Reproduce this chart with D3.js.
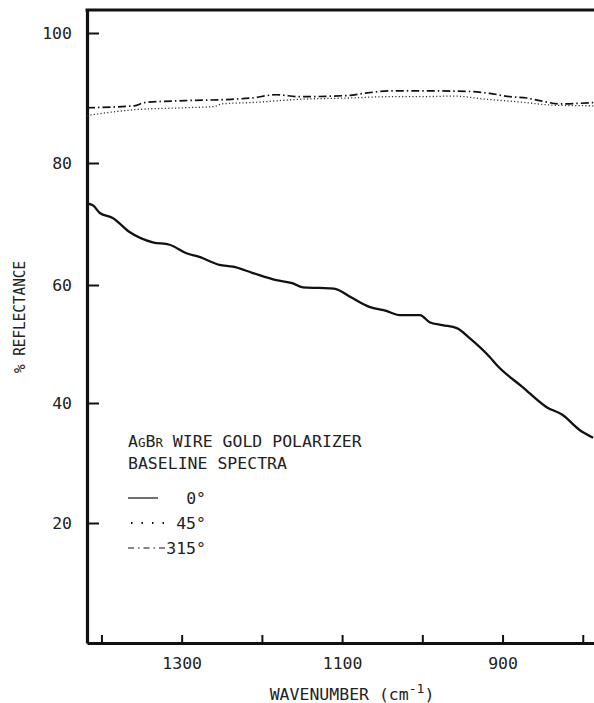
<!DOCTYPE html>
<html>
<head>
<meta charset="utf-8">
<script src="https://cdn.jsdelivr.net/npm/d3@7"></script>
<style>
  html, body { margin: 0; padding: 0; background: #fff; }
  svg { display: block; }
  text { font-family: "DejaVu Sans Mono", monospace; fill: #222; }
</style>
</head>
<body>
<svg id="chart" width="594" height="703"></svg>
<script>
// ---- data ----
const yTicks = [20, 40, 60, 80, 100];
const xTicks = [1400, 1300, 1200, 1100, 1000, 900, 800];
const xTickLabels = [1300, 1100, 900];

// 0 degree (solid)
const wn0  = [1418, 1410, 1402, 1386, 1365, 1336, 1315, 1294, 1278, 1253, 1236, 1212, 1182, 1162, 1149, 1128, 1110, 1090, 1066, 1045, 1028, 1003, 991, 975, 957, 941, 916, 907, 875, 845, 825, 804, 787];
const val0 = [73.4, 73.0, 71.8, 71.0, 68.7, 67.0, 66.6, 65.2, 64.6, 63.3, 63.0, 62.0, 60.8, 60.3, 59.6, 59.5, 59.4, 58.0, 56.3, 55.6, 54.9, 54.9, 53.7, 53.2, 52.7, 51.0, 47.8, 46.4, 42.7, 39.3, 38.0, 35.5, 34.2];

// 45 degree (dotted)
const wn45  = [1418, 1359, 1296, 1259, 1250, 1213, 1153, 1091, 1041, 1000, 962, 920, 879, 837, 787];
const val45 = [87.3, 88.2, 88.5, 88.7, 89.1, 89.3, 89.8, 90.0, 90.2, 90.2, 90.3, 89.8, 89.4, 88.9, 88.8];

// 315 degree (dash-dot)
const wn315  = [1418, 1359, 1346, 1296, 1238, 1213, 1182, 1153, 1091, 1074, 1037, 1000, 941, 916, 891, 870, 854, 829, 787];
const val315 = [88.5, 88.8, 89.3, 89.6, 89.8, 90.0, 90.5, 90.2, 90.4, 90.7, 91.1, 91.1, 91.0, 90.7, 90.2, 90.0, 89.6, 89.1, 89.3];

// ---- layout ----
const svg = d3.select("#chart");
const mLeft = 87, mRight = 594, mTop = 10, mBottom = 643;

const x = d3.scaleLinear().domain([1418, 786]).range([mLeft, mRight]);
// the scanned axis is slightly uneven: use a poly-linear scale through the printed ticks
const y = d3.scaleLinear()
  .domain([0, 20, 40, 60, 80, 100, 103.5])
  .range([mBottom, 523, 403, 285, 163, 33, mTop]);

// ---- axes ----
const yAxis = d3.axisLeft(y).tickValues(yTicks).tickSizeInner(-12).tickSizeOuter(0).tickPadding(15)
  .tickFormat(d3.format("d"));
const gy = svg.append("g").attr("transform", `translate(${mLeft},0)`).call(yAxis);
gy.select(".domain").attr("stroke", "#111").attr("stroke-width", 3.2);
gy.selectAll(".tick line").attr("stroke", "#111").attr("stroke-width", 2);
gy.selectAll(".tick text").attr("font-size", 16.5).attr("font-family", "DejaVu Sans Mono").attr("fill", "#222");

const xAxis = d3.axisBottom(x).tickValues(xTicks).tickSizeInner(-8).tickSizeOuter(0).tickPadding(14)
  .tickFormat(d => xTickLabels.includes(d) ? d : "");
const gx = svg.append("g").attr("transform", `translate(0,${mBottom})`).call(xAxis);
gx.select(".domain").attr("stroke", "#111").attr("stroke-width", 3.2);
gx.selectAll(".tick line").attr("stroke", "#111").attr("stroke-width", 2);
gx.selectAll(".tick text").attr("font-size", 16.5).attr("font-family", "DejaVu Sans Mono").attr("fill", "#222");

// top frame
svg.append("line").attr("x1", mLeft - 1.5).attr("x2", mRight).attr("y1", mTop).attr("y2", mTop)
  .attr("stroke", "#111").attr("stroke-width", 3.2);

// ---- series ----
const line = d3.line().x(d => x(d[0])).y(d => y(d[1])).curve(d3.curveMonotoneX);
const zip = (a, b) => a.map((v, i) => [v, b[i]]);

svg.append("path").datum(zip(wn45, val45)).attr("d", line)
  .attr("fill", "none").attr("stroke", "#333").attr("stroke-width", 1.3)
  .attr("stroke-dasharray", "1.2,2.2");
svg.append("path").datum(zip(wn315, val315)).attr("d", line)
  .attr("fill", "none").attr("stroke", "#111").attr("stroke-width", 1.7)
  .attr("stroke-dasharray", "8,3,1.5,3");
svg.append("path").datum(zip(wn0, val0)).attr("d", line)
  .attr("fill", "none").attr("stroke", "#111").attr("stroke-width", 2.3);

// ---- axis titles ----
const xt = svg.append("text").attr("x", 352).attr("y", 700).attr("text-anchor", "middle").attr("font-size", 16.5).attr("fill", "#222");
xt.append("tspan").text("WAVENUMBER (cm");
xt.append("tspan").attr("font-size", 13).attr("dy", -7).text("-1");
xt.append("tspan").attr("dy", 7).text(")");

svg.append("text")
  .attr("transform", "translate(25,317) rotate(-90)")
  .attr("text-anchor", "middle").attr("font-size", 15).attr("fill", "#222")
  .attr("textLength", 112).attr("lengthAdjust", "spacingAndGlyphs")
  .text("% REFLECTANCE");

// ---- legend ----
const lg = svg.append("g");
const t1 = lg.append("text").attr("x", 128).attr("y", 447).attr("font-size", 16.5);
t1.append("tspan").text("A");
t1.append("tspan").attr("font-size", 12.5).text("G");
t1.append("tspan").text("B");
t1.append("tspan").attr("font-size", 12.5).text("R");
t1.append("tspan").text(" WIRE GOLD POLARIZER");
lg.append("text").attr("x", 128).attr("y", 469).attr("font-size", 16.5).text("BASELINE SPECTRA");

const rows = [
  { label: "0°", dash: null, y: 498 },
  { label: "45°", dash: "1.5,9", y: 523 },
  { label: "315°", dash: "6,4,1.5,4", y: 548 }
];
rows.forEach(r => {
  lg.append("line").attr("x1", r.dash === "1.5,9" ? 131 : 128).attr("x2", r.dash ? 165 : 158)
    .attr("y1", r.y).attr("y2", r.y)
    .attr("stroke", "#111").attr("stroke-width", r.dash === "1.5,9" ? 2 : 1.2)
    .attr("stroke-dasharray", r.dash);
  lg.append("text").attr("x", 206).attr("y", r.y + 6).attr("text-anchor", "end")
    .attr("font-size", 16.5).text(r.label);
});
</script>
</body>
</html>
